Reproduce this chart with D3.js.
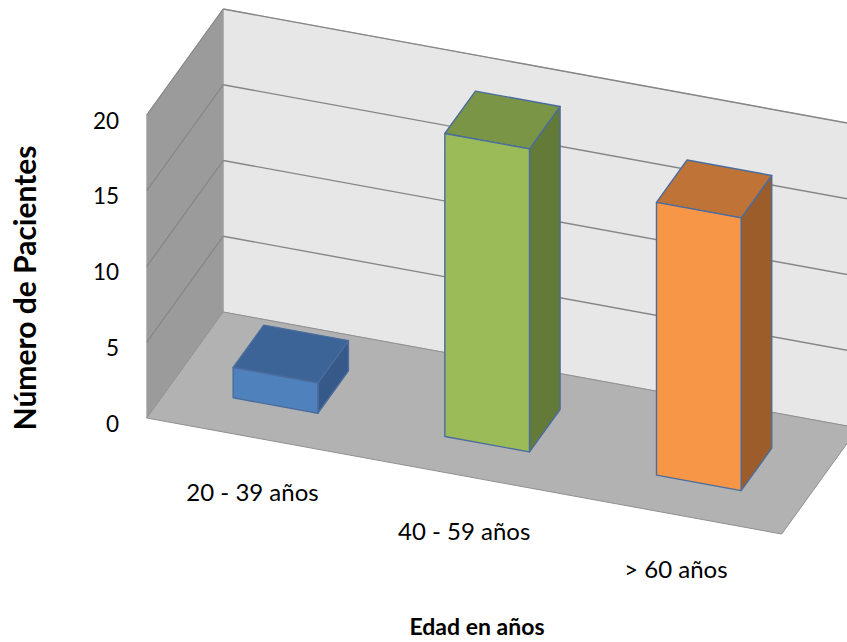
<!DOCTYPE html>
<html>
<head>
<meta charset="utf-8">
<script src="https://cdn.jsdelivr.net/npm/d3@7"></script>
<style>
  body { margin: 0; background: #fff; }
  svg  { display: block; }
  text { font-family: Lato, "Open Sans", sans-serif; fill: #000; }
</style>
</head>
<body>
<svg id="chart" width="847" height="642"></svg>
<script>
/* -- data ------------------------------------------------------------- */
const categories = ["20 - 39 años", "40 - 59 años", "> 60 años"];
const patients   = [2, 20, 18];
const yTicks     = [0, 5, 10, 15, 20];

/* face colours per bar: front / top / side */
const barFront = ["#4f81bd", "#9bbb59", "#f79646"];
const barTop   = ["#3c6496", "#7a9545", "#c07337"];
const barSide  = ["#36598a", "#637a38", "#9c5d2b"];

const svg = d3.select("#chart");

/* -- oblique 3-D frame -------------------------------------------------- */
const origin = [146.7, 418];   // front-left corner of the floor
const axU = [635, 116];        // across the categories
const axD = [76.5, -106];      // into the depth
const axV = [0, -303];         // full value height

const x = d3.scaleBand().domain(categories).range([0, 1])
  .paddingInner(0.6).paddingOuter(0.3);
const y = d3.scaleLinear().domain([0, 20]).range([0, 1]);
const depth = [0.3, 0.7];      // bar front / back

function proj(u, d, v) {
  return [origin[0] + u * axU[0] + d * axD[0] + v * axV[0],
          origin[1] + u * axU[1] + d * axD[1] + v * axV[1]];
}
const poly = pts => "M" + pts.map(p => p.map(n => n.toFixed(2)).join(",")).join("L") + "Z";

/* -- walls & floor ------------------------------------------------------ */
const frame = svg.append("g");

frame.append("path")      // back wall
  .attr("d", poly([proj(0,1,0), proj(1,1,0), proj(1,1,1), proj(0,1,1)]))
  .attr("fill", "#e7e7e7").attr("stroke", "#a6a6a6").attr("stroke-width", 0.8);

frame.append("path")      // left wall
  .attr("d", poly([proj(0,0,0), proj(0,1,0), proj(0,1,1), proj(0,0,1)]))
  .attr("fill", "#9b9b9b").attr("stroke", "#a6a6a6").attr("stroke-width", 0.8);

frame.append("path")      // floor
  .attr("d", poly([proj(0,0,0), proj(1,0,0), proj(1,1,0), proj(0,1,0)]))
  .attr("fill", "#b2b2b2").attr("stroke", "#8f8f8f").attr("stroke-width", 1);

/* gridlines on both walls */
const grid = yTicks.filter(t => t > 0);
frame.selectAll("path.gridL").data(grid).enter().append("path")
  .attr("class", "gridL")
  .attr("d", t => "M" + proj(0,0,y(t)).join(",") + "L" + proj(0,1,y(t)).join(","))
  .attr("stroke", "#858585").attr("stroke-width", 1.2).attr("fill", "none");
frame.selectAll("path.gridB").data(grid).enter().append("path")
  .attr("class", "gridB")
  .attr("d", t => "M" + proj(0,1,y(t)).join(",") + "L" + proj(1,1,y(t)).join(","))
  .attr("stroke", "#868686").attr("stroke-width", 1.4).attr("fill", "none");

/* -- bars ----------------------------------------------------------------- */
const bw = x.bandwidth();
const bars = svg.selectAll("g.bar")
  .data(categories.map((c, i) => ({ c, v: patients[i], i })))
  .enter().append("g").attr("class", "bar")
  .attr("stroke", "#4a6d9e").attr("stroke-width", 1.4)
  .attr("stroke-linejoin", "round");

bars.append("path")   // right side
  .attr("fill", d => barSide[d.i])
  .attr("d", d => {
    const u1 = x(d.c) + bw, h = y(d.v);
    return poly([proj(u1,depth[0],0), proj(u1,depth[1],0), proj(u1,depth[1],h), proj(u1,depth[0],h)]);
  });
bars.append("path")   // top
  .attr("fill", d => barTop[d.i])
  .attr("d", d => {
    const u0 = x(d.c), u1 = u0 + bw, h = y(d.v);
    return poly([proj(u0,depth[0],h), proj(u1,depth[0],h), proj(u1,depth[1],h), proj(u0,depth[1],h)]);
  });
bars.append("path")   // front
  .attr("fill", d => barFront[d.i])
  .attr("d", d => {
    const u0 = x(d.c), u1 = u0 + bw, h = y(d.v);
    return poly([proj(u0,depth[0],0), proj(u1,depth[0],0), proj(u1,depth[0],h), proj(u0,depth[0],h)]);
  });

/* -- axis labels -------------------------------------------------------- */
svg.selectAll("text.tick").data(yTicks).enter().append("text")
  .attr("class", "tick")
  .attr("x", 119)
  .attr("y", t => proj(0, 0, y(t))[1] + 5)
  .attr("text-anchor", "end")
  .attr("dominant-baseline", "central")
  .attr("font-size", 22.5)
  .text(t => t);

svg.selectAll("text.cat").data(categories).enter().append("text")
  .attr("class", "cat")
  .attr("x", c => proj(x(c) + bw / 2, 0, 0)[0])
  .attr("y", c => proj(x(c) + bw / 2, 0, 0)[1] + 54)
  .attr("text-anchor", "middle")
  .attr("dominant-baseline", "central")
  .attr("font-size", 24)
  .text(c => c);

svg.append("text")
  .attr("transform", "translate(24,288) rotate(-90)")
  .attr("text-anchor", "middle")
  .attr("dominant-baseline", "central")
  .attr("font-size", 30).attr("font-weight", "bold")
  .text("Número de Pacientes");

svg.append("text")
  .attr("x", 477).attr("y", 626)
  .attr("text-anchor", "middle")
  .attr("dominant-baseline", "central")
  .attr("font-size", 23).attr("font-weight", "bold")
  .text("Edad en años");
</script>
</body>
</html>
